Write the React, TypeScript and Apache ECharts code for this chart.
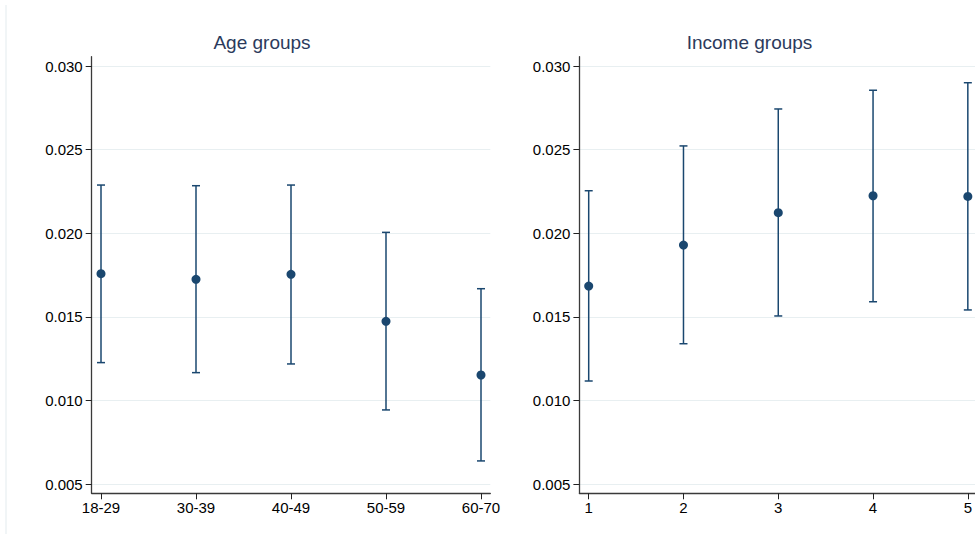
import React, { useEffect, useRef } from "react";
import * as echarts from "echarts";

const ageCats = ["18-29", "30-39", "40-49", "50-59", "60-70"];
const ageMean = [0.01758, 0.01724, 0.01754, 0.01473, 0.01152];
const ageLow = [0.01226, 0.01166, 0.01218, 0.00943, 0.00638];
const ageHigh = [0.02288, 0.02284, 0.02288, 0.02005, 0.01668];

const incCats = ["1", "2", "3", "4", "5"];
const incMean = [0.01684, 0.01929, 0.02123, 0.02224, 0.0222];
const incLow = [0.01116, 0.01339, 0.01505, 0.0159, 0.01541];
const incHigh = [0.02254, 0.02522, 0.02743, 0.02855, 0.029];

const yMin = 0.005;
const yMax = 0.03;
const yStep = 0.005;

const titles = ["Age groups", "Income groups"];

const FONT = "'Liberation Sans', Arial, sans-serif";
const NAVY = "#1a476f";

export default function App() {
  const ref = useRef<HTMLDivElement>(null);
  useEffect(() => {
    if (!ref.current) return;
    const chart = echarts.init(ref.current, undefined, { renderer: "svg" });

    const innerTop = 66;
    const innerH = 418;
    const pad = 9.3;
    const innerW = 380;
    const padVal = (pad / innerH) * (yMax - yMin);
    const panels = [
      { left: 101, cats: ageCats, mean: ageMean, low: ageLow, high: ageHigh, title: titles[0], tx: 262 },
      { left: 588.7, cats: incCats, mean: incMean, low: incLow, high: incHigh, title: titles[1], tx: 749.5 },
    ];

    const grid: any[] = [];
    const xAxis: any[] = [];
    const yAxis: any[] = [];
    const series: any[] = [];
    const graphic: any[] = [
      {
        type: "line",
        shape: { x1: 6, y1: 5, x2: 6, y2: 534 },
        style: { stroke: "#e3ebee", lineWidth: 1 },
        silent: true,
      },
    ];
    const axisLineStyle = { color: "#3a3a3a", width: 1.3 };

    panels.forEach((p, k) => {
      const gi = k * 2;
      const go = k * 2 + 1;
      grid.push({ left: p.left, top: innerTop, width: innerW, height: innerH });
      grid.push({
        left: p.left - pad,
        top: innerTop - pad,
        width: innerW + 2 * pad,
        height: innerH + 2 * pad,
      });
      xAxis.push({
        type: "category",
        gridIndex: gi,
        data: p.cats,
        boundaryGap: false,
        offset: pad,
        axisLine: { show: false, onZero: false },
        axisTick: { show: true, length: 6, lineStyle: { color: "#222", width: 1 } },
        axisLabel: { margin: 7, fontSize: 15, color: "#000", fontFamily: FONT, interval: 0 },
        splitLine: { show: false },
      });
      xAxis.push({
        type: "value",
        gridIndex: go,
        min: 0,
        max: 1,
        axisLine: { show: true, onZero: false, lineStyle: axisLineStyle },
        axisTick: { show: false },
        axisLabel: { show: false },
        splitLine: { show: false },
      });
      yAxis.push({
        type: "value",
        gridIndex: gi,
        min: yMin,
        max: yMax,
        interval: yStep,
        offset: pad,
        axisLine: { show: false, onZero: false },
        axisTick: { show: true, length: 6, lineStyle: { color: "#222", width: 1 } },
        axisLabel: {
          margin: 9,
          fontSize: 15,
          color: "#000",
          fontFamily: FONT,
          formatter: (v: number) => v.toFixed(3),
        },
        splitLine: { show: false },
      });
      yAxis.push({
        type: "value",
        gridIndex: go,
        min: yMin - padVal,
        max: yMax + padVal,
        minInterval: yStep,
        maxInterval: yStep,
        axisLine: { show: true, onZero: false, lineStyle: axisLineStyle },
        axisTick: { show: false },
        axisLabel: { show: false },
        splitLine: {
          show: true,
          showMinLine: false,
          showMaxLine: false,
          lineStyle: { color: "#e8eff1", width: 1 },
        },
      });
      series.push({
        type: "custom",
        xAxisIndex: gi,
        yAxisIndex: gi,
        data: p.cats.map((_, i) => [i, p.low[i], p.high[i]]),
        encode: { x: 0, y: [1, 2] },
        renderItem: (params: any, api: any) => {
          const x = api.value(0);
          const lo = api.coord([x, api.value(1)]);
          const hi = api.coord([x, api.value(2)]);
          const style = { stroke: NAVY, lineWidth: 1.5, fill: "none" };
          const cw = 4;
          return {
            type: "group",
            children: [
              { type: "line", shape: { x1: lo[0], y1: lo[1], x2: hi[0], y2: hi[1] }, style },
              { type: "line", shape: { x1: lo[0] - cw, y1: lo[1], x2: lo[0] + cw, y2: lo[1] }, style },
              { type: "line", shape: { x1: hi[0] - cw, y1: hi[1], x2: hi[0] + cw, y2: hi[1] }, style },
            ],
          };
        },
        z: 3,
      });
      series.push({
        type: "scatter",
        xAxisIndex: gi,
        yAxisIndex: gi,
        data: p.mean.map((m, i) => [i, m]),
        symbol: "circle",
        symbolSize: 9,
        itemStyle: { color: NAVY, opacity: 1 },
        z: 4,
      });
      graphic.push({
        type: "text",
        x: p.tx,
        y: 42,
        style: {
          text: p.title,
          align: "center",
          verticalAlign: "middle",
          fontSize: 19,
          fontFamily: FONT,
          fill: "#2b3a5c",
        },
        silent: true,
      });
    });

    chart.setOption({
      animation: false,
      backgroundColor: "#ffffff",
      grid,
      xAxis,
      yAxis,
      series,
      graphic,
      tooltip: { show: false },
    });
    return () => chart.dispose();
  }, []);
  return (
    <div
      ref={ref}
      style={{ position: "absolute", left: 0, top: 0, width: 975, height: 546 }}
    />
  );
}
